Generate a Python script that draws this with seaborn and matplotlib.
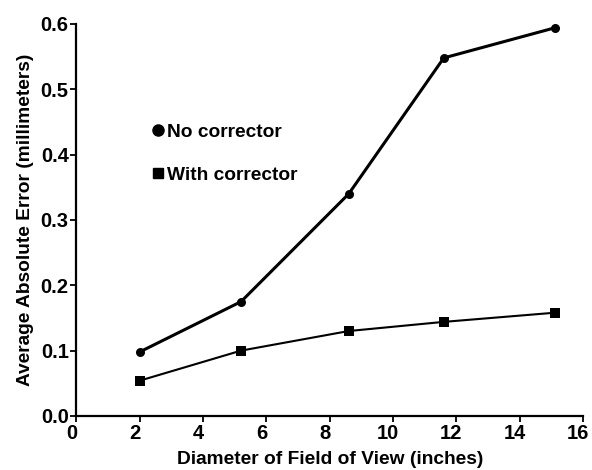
import matplotlib
matplotlib.use("Agg")
import matplotlib.pyplot as plt
import matplotlib.transforms as mtransforms
import seaborn as sns
import pandas as pd
from matplotlib.lines import Line2D
from matplotlib.ticker import FormatStrFormatter

diameter = [2.0, 5.2, 8.6, 11.6, 15.1]
no_corrector = [0.098, 0.175, 0.340, 0.548, 0.594]
with_corrector = [0.054, 0.100, 0.130, 0.144, 0.158]
x_ticks = [0, 2, 4, 6, 8, 10, 12, 14, 16]
y_ticks = [0.0, 0.1, 0.2, 0.3, 0.4, 0.5, 0.6]

df_nc = pd.DataFrame({"x": diameter, "y": no_corrector})
df_wc = pd.DataFrame({"x": diameter, "y": with_corrector})

sns.set_style("ticks")
plt.rcParams['font.family'] = ['Liberation Sans', 'DejaVu Sans']
plt.rcParams['font.weight'] = 'bold'
plt.rcParams['text.color'] = 'black'
plt.rcParams['axes.labelcolor'] = 'black'

fig = plt.figure(figsize=(5.92, 4.70), dpi=100)
ax = fig.add_axes([0.129, 0.115, 0.856, 0.834])

sns.lineplot(data=df_nc, x="x", y="y", ax=ax, color="black", lw=2.2,
             marker="o", markersize=6.5, markeredgewidth=0)
sns.lineplot(data=df_wc, x="x", y="y", ax=ax, color="black", lw=1.5,
             marker="s", markersize=7.5, markeredgewidth=0)

ax.set_xlim(0, 16)
ax.set_ylim(0, 0.6)
ax.set_xticks(x_ticks)
ax.set_yticks(y_ticks)
ax.yaxis.set_major_formatter(FormatStrFormatter('%.1f'))
sns.despine(ax=ax)
for s in ["left", "bottom"]:
    ax.spines[s].set_linewidth(1.6)
    ax.spines[s].set_color("black")
ax.tick_params(axis="both", direction="out", length=4, width=1.3,
               labelsize=14.5, colors="black", pad=1.5)
for lab in ax.get_xticklabels() + ax.get_yticklabels():
    lab.set_fontweight("bold")
shift = mtransforms.ScaledTranslation(-0.05, 0, fig.dpi_scale_trans)
for lab in ax.get_xticklabels():
    lab.set_transform(lab.get_transform() + shift)

ax.set_xlabel("Diameter of Field of View (inches)", fontsize=13.8,
              fontweight="bold", labelpad=6, color="black")
ax.set_ylabel("Average Absolute Error (millimeters)", fontsize=13.8,
              fontweight="bold", labelpad=5, color="black")

handles = [
    Line2D([], [], color="black", marker="o", linestyle="none", markersize=8),
    Line2D([], [], color="black", marker="s", linestyle="none", markersize=7.5),
]
leg = ax.legend(handles, ["No corrector", "With corrector"], frameon=False,
                loc="upper left", bbox_to_anchor=(0.142, 0.747), handletextpad=0.0,
                labelspacing=1.35, prop={"weight": "bold", "size": 13.8},
                handlelength=1.0, borderpad=0, borderaxespad=0)
for t in leg.get_texts():
    t.set_color("black")

fig.savefig("out.png", dpi=100)
